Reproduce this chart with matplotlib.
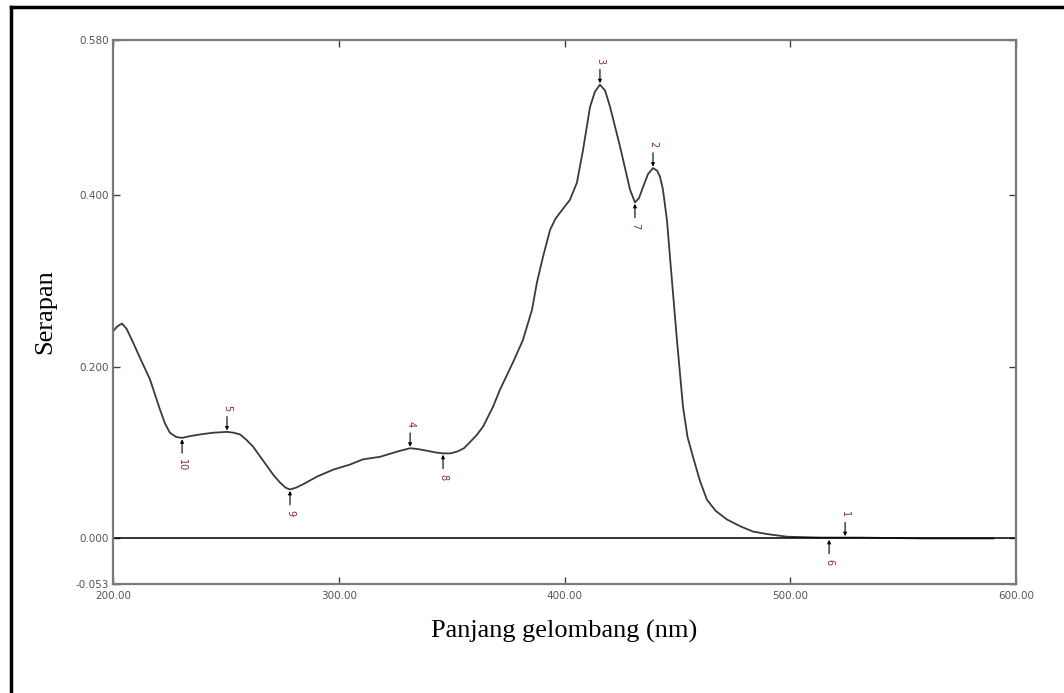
import numpy as np
import matplotlib.pyplot as plt
from matplotlib.lines import Line2D

# spectrum (wavelength nm, absorbance)
wl = [200.0, 202.0, 204.0, 206.0, 208.9, 212.5, 216.4, 220.8, 223.0, 225.2,
      228.0, 230.6, 234.0, 238.5, 244.3, 250.5, 253.5, 256.3, 259.0, 262.0,
      265.0, 268.3, 271.0, 274.0, 276.5, 278.4, 281.0, 284.2, 290.4, 297.5,
      305.0, 310.7, 318.3, 325.8, 331.6, 335.0, 339.1, 343.0, 346.2, 349.5,
      352.4, 355.5, 358.1, 361.0, 363.9, 368.3, 371.4, 377.2, 381.6, 385.6,
      387.8, 390.5, 393.6, 396.0, 398.0, 402.4, 405.5, 408.2, 411.3, 413.5,
      415.7, 418.0, 420.2, 424.6, 429.0, 431.2, 433.0, 434.8, 437.0, 439.2,
      441.0, 442.3, 443.6, 445.4, 446.7, 449.8, 452.5, 454.5, 456.9, 460.0,
      463.1, 467.0, 472.0, 478.0, 483.5, 490.0, 498.6, 513.2, 530.0, 560.0,
      590.0]
absb = [0.241, 0.247, 0.250, 0.244, 0.228, 0.207, 0.185, 0.150, 0.134, 0.123,
        0.118, 0.117, 0.119, 0.121, 0.123, 0.124, 0.123, 0.121, 0.115, 0.107,
        0.096, 0.084, 0.074, 0.065, 0.059, 0.057, 0.059, 0.063, 0.072, 0.080,
        0.086, 0.092, 0.095, 0.101, 0.105, 0.104, 0.102, 0.100, 0.099, 0.099,
        0.101, 0.105, 0.112, 0.120, 0.130, 0.153, 0.173, 0.205, 0.231, 0.266,
        0.298, 0.328, 0.359, 0.372, 0.379, 0.394, 0.414, 0.452, 0.502, 0.520,
        0.528, 0.521, 0.502, 0.456, 0.406, 0.391, 0.396, 0.409, 0.424, 0.431,
        0.428, 0.421, 0.406, 0.370, 0.328, 0.231, 0.153, 0.118, 0.095, 0.067,
        0.045, 0.032, 0.022, 0.014, 0.008, 0.005, 0.002, 0.001, 0.001, 0.000,
        0.000]

# peak picks: number, wavelength, absorbance, peak (True) or valley (False)
pk_no = [1, 2, 3, 4, 5, 6, 7, 8, 9, 10]
pk_wl = [524.3, 439.2, 415.7, 331.6, 250.5, 517.2, 431.2, 346.2, 278.4, 230.6]
pk_ab = [0.001, 0.431, 0.528, 0.105, 0.124, 0.000, 0.391, 0.099, 0.057, 0.117]
pk_up = [True, True, True, True, True, False, False, False, False, False]

yticks = [-0.053, 0.0, 0.2, 0.4, 0.58]
xticks = [200, 300, 400, 500, 600]

fig = plt.figure(figsize=(10.64, 6.93), dpi=100)
ax = fig.add_axes([0.1062, 0.1573, 0.8487, 0.785])

ax.plot(wl, absb, color='#3a3a3a', lw=1.3)
ax.axhline(0, color='black', lw=1.1)

for n, x, y, up in zip(pk_no, pk_wl, pk_ab, pk_up):
    s = 1 if up else -1
    ax.annotate('', xy=(x, y), xytext=(0, s * 11), textcoords='offset points',
                arrowprops=dict(arrowstyle='-|>', color='black', lw=0.8,
                                mutation_scale=5, shrinkA=0, shrinkB=1))
    ax.annotate(str(n), xy=(x, y), xytext=(0, s * 15), textcoords='offset points',
                ha='center', va='bottom' if up else 'top', rotation=-90,
                fontsize=7, color='#8b2252')

ax.set_xlim(200, 600)
ax.set_ylim(-0.053, 0.58)
ax.set_xticks(xticks)
ax.set_xticklabels(['%.2f' % v for v in xticks])
ax.set_yticks(yticks)
ax.set_yticklabels(['%.3f' % v for v in yticks])
ax.tick_params(direction='in', length=5, width=1, color='#404040',
               labelsize=7.5, labelcolor='#555555', top=True, right=True)
ax.tick_params(axis='x', pad=5)
ax.tick_params(axis='y', pad=3)
for sp in ax.spines.values():
    sp.set_color('#7a7a7a')
    sp.set_linewidth(1.6)

ax.set_xlabel('Panjang gelombang (nm)', family='Liberation Serif', fontsize=19,
              labelpad=14)
ax.set_ylabel('Serapan', family='Liberation Serif', fontsize=19, labelpad=14)

# frame around the figure (left and top)
fig.add_artist(Line2D([11 / 1064, 11 / 1064], [0, 1 - 7 / 693], color='black', lw=2.5))
fig.add_artist(Line2D([11 / 1064, 1], [1 - 7 / 693, 1 - 7 / 693], color='black', lw=2.5))

fig.savefig('out.png', dpi=100)
